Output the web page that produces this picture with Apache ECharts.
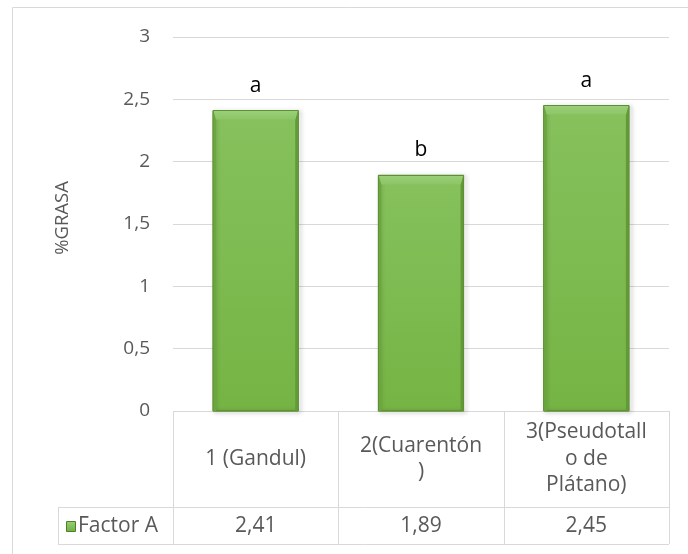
<!DOCTYPE html>
<html>
<head>
<meta charset="utf-8">
<script src="https://cdn.jsdelivr.net/npm/echarts@6/dist/echarts.min.js"></script>
<style>
  html, body { margin: 0; padding: 0; background: #fff; }
  #chart { width: 688px; height: 554px; }
</style>
</head>
<body>
<div id="chart"></div>
<script>
// Datos: % de grasa por tratamiento (Factor A)
const categorias = ['1 (Gandul)', '2(Cuarentón\n)', '3(Pseudotall\no de\nPlátano)'];
const valores = [2.41, 1.89, 2.45];
const letras = ['a', 'b', 'a'];
const nombreSerie = 'Factor A';
const tituloEjeY = '%GRASA';
const ejeYMin = 0;
const ejeYMax = 3;
const ejeYPaso = 0.5;

const FONT = '"Open Sans", "Noto Sans", sans-serif';
const GRIS_TEXTO = '#595959';
const GRIS_LINEA = '#D9D9D9';

const coma = v => String(v).replace('.', ',');

const chart = echarts.init(document.getElementById('chart'), null, { renderer: 'canvas' });

const grid = { left: 173, right: 19, top: 37, bottom: 143 };

function barraBisel(params, api) {
  const i = api.value(0);
  const v = api.value(1);
  const top = api.coord([i, v]);
  const base = api.coord([i, 0]);
  const bw = api.size([1, 0])[0] * 0.515;
  const x = top[0] - bw / 2;
  const y = top[1];
  const h = base[1] - top[1];
  const b = 9;   // bisel superior
  const s = 3;   // bisel lateral
  return {
    type: 'group',
    children: [
      {
        type: 'rect',
        shape: { x: x, y: y, width: bw, height: h },
        style: {
          fill: new echarts.graphic.LinearGradient(0, 0, 0, 1, [
            { offset: 0, color: '#86C15D' },
            { offset: 1, color: '#75B444' }
          ]),
          stroke: '#5E8F34',
          lineWidth: 1,
          shadowBlur: 4,
          shadowOffsetX: 2,
          shadowOffsetY: 1,
          shadowColor: 'rgba(0,0,0,0.35)'
        }
      },
      {
        type: 'polygon',
        shape: { points: [[x + 0.5, y + 0.5], [x + s, y + b], [x + s, y + h], [x + 0.5, y + h]] },
        style: { fill: '#6CA63E' }
      },
      {
        type: 'polygon',
        shape: { points: [[x + bw - 0.5, y + 0.5], [x + bw - s, y + b], [x + bw - s, y + h], [x + bw - 0.5, y + h]] },
        style: { fill: '#629A37' }
      },
      {
        type: 'polygon',
        shape: { points: [[x + 0.5, y + 0.5], [x + bw - 0.5, y + 0.5], [x + bw - s, y + b], [x + s, y + b]] },
        style: {
          fill: new echarts.graphic.LinearGradient(0, 0, 0, 1, [
            { offset: 0, color: '#9ACF78' },
            { offset: 1, color: '#8CC566' }
          ])
        }
      },
      {
        type: 'text',
        x: top[0],
        y: y - 25,
        style: {
          text: letras[i],
          fill: '#000',
          font: '21px ' + FONT,
          align: 'center',
          verticalAlign: 'middle'
        }
      }
    ]
  };
}

const option = {
  backgroundColor: '#fff',
  animation: false,
  grid: grid,
  xAxis: {
    type: 'category',
    data: categorias,
    axisLine: { show: false },
    axisTick: { show: false },
    axisLabel: { show: false }
  },
  yAxis: {
    type: 'value',
    min: ejeYMin,
    max: ejeYMax,
    interval: ejeYPaso,
    axisLine: { show: false },
    axisTick: { show: false },
    axisLabel: {
      formatter: v => coma(v),
      color: GRIS_TEXTO,
      fontFamily: FONT,
      fontSize: 19,
      margin: 23
    },
    splitLine: { lineStyle: { color: GRIS_LINEA, width: 1 } }
  },
  series: [{
    name: nombreSerie,
    type: 'custom',
    renderItem: barraBisel,
    encode: { x: 0, y: 1 },
    data: valores.map((v, i) => [i, v]),
    z: 3
  }]
};

chart.setOption(option);

// Tabla de datos bajo el eje de categorías
const W = 688, H = 554;
const x0 = grid.left;
const x1 = W - grid.right;
const yTop = H - grid.bottom;
const yMid = 507;
const yBot = 544;
const xLeyenda = 58;
const anchoCat = (x1 - x0) / categorias.length;

const linea = (ax, ay, bx, by) => ({
  type: 'line',
  shape: { x1: ax, y1: ay, x2: bx, y2: by },
  style: { stroke: GRIS_LINEA, lineWidth: 1 },
  silent: true
});

const elementos = [];
// marco del área del gráfico
elementos.push({
  type: 'rect',
  shape: { x: 12.5, y: 7.5, width: 720, height: 620 },
  style: { fill: 'none', stroke: GRIS_LINEA, lineWidth: 1 },
  silent: true
});
// líneas horizontales
elementos.push(linea(x0, yTop + 0.5, x1, yTop + 0.5));
elementos.push(linea(xLeyenda, yMid + 0.5, x1, yMid + 0.5));
elementos.push(linea(xLeyenda, yBot + 0.5, x1, yBot + 0.5));
// líneas verticales
elementos.push(linea(xLeyenda + 0.5, yMid, xLeyenda + 0.5, yBot));
for (let k = 0; k <= categorias.length; k++) {
  const xx = Math.round(x0 + k * anchoCat) + 0.5;
  elementos.push(linea(xx, yTop, xx, yBot));
}
// textos de categorías y valores
categorias.forEach((c, i) => {
  const cx = chart.convertToPixel({ xAxisIndex: 0 }, i);
  elementos.push({
    type: 'text',
    x: cx,
    y: (yTop + yMid) / 2,
    style: {
      text: c,
      fill: GRIS_TEXTO,
      font: '21px ' + FONT,
      lineHeight: 26.5,
      align: 'center',
      verticalAlign: 'middle'
    }
  });
  elementos.push({
    type: 'text',
    x: cx,
    y: (yMid + yBot) / 2 + 1,
    style: {
      text: coma(valores[i]),
      fill: GRIS_TEXTO,
      font: '21px ' + FONT,
      align: 'center',
      verticalAlign: 'middle'
    }
  });
});
// clave de la serie
elementos.push({
  type: 'rect',
  shape: { x: 66.5, y: 521.5, width: 9, height: 10 },
  style: {
    fill: new echarts.graphic.LinearGradient(0, 0, 0, 1, [
      { offset: 0, color: '#9ACF78' },
      { offset: 1, color: '#6FAE40' }
    ]),
    stroke: '#4F7F28',
    lineWidth: 1
  }
});
elementos.push({
  type: 'text',
  x: 78,
  y: (yMid + yBot) / 2 + 1,
  style: {
    text: nombreSerie,
    fill: GRIS_TEXTO,
    font: '21px ' + FONT,
    align: 'left',
    verticalAlign: 'middle'
  }
});
// título del eje Y
elementos.push({
  type: 'text',
  x: 63,
  y: 218,
  rotation: Math.PI / 2,
  style: {
    text: tituloEjeY,
    fill: GRIS_TEXTO,
    font: '18.5px ' + FONT,
    align: 'center',
    verticalAlign: 'middle'
  }
});

chart.setOption({ graphic: { elements: elementos } });
</script>
</body>
</html>
